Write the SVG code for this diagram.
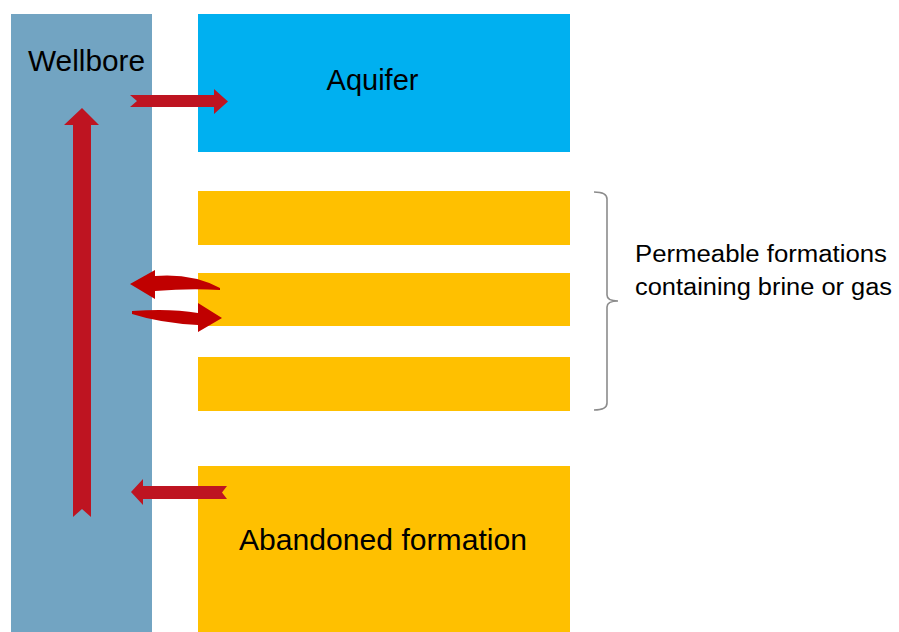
<svg xmlns="http://www.w3.org/2000/svg" width="899" height="632" viewBox="0 0 899 632">
  <style>
    .label { font-family: "Liberation Sans", Arial, sans-serif; font-size: 29px; fill: #000; }
    .note { font-family: "Liberation Sans", Arial, sans-serif; font-size: 23px; fill: #000; }
    .well { fill: #72A4C2; }
    .aquifer { fill: #00B0F0; }
    .layer { fill: #FFC000; }
    .flow { fill: #BE1421; }
    .swirl { fill: #C00000; }
    .brace { fill: none; stroke: #8C8C8C; stroke-width: 1.6; }
  </style>
  <rect width="899" height="632" fill="#FFFFFF"/>

  <g id="wellbore">
    <rect class="well" x="11" y="14" width="141" height="618"/>
    <text class="label" x="28" y="71" textLength="117" lengthAdjust="spacingAndGlyphs">Wellbore</text>
  </g>

  <g id="aquifer">
    <rect class="aquifer" x="198" y="14" width="372" height="138"/>
    <text class="label" x="372.5" y="90" text-anchor="middle">Aquifer</text>
  </g>

  <g id="permeable-1">
    <rect class="layer" x="198" y="191" width="372" height="54"/>
  </g>
  <g id="permeable-2">
    <rect class="layer" x="198" y="273" width="372" height="53"/>
  </g>
  <g id="permeable-3">
    <rect class="layer" x="198" y="357" width="372" height="54"/>
  </g>

  <g id="abandoned-formation">
    <rect class="layer" x="198" y="466" width="372" height="166"/>
    <text class="label" x="239" y="550" textLength="288" lengthAdjust="spacingAndGlyphs">Abandoned formation</text>
  </g>

  <g id="permeable-note">
    <path class="brace" d="M594,192 Q607,192 607,199 L607,295 Q607,301 618,301 Q607,301 607,307 L607,403 Q607,410 594,410"/>
    <text class="note" x="635" y="262" textLength="252" lengthAdjust="spacingAndGlyphs">Permeable formations</text>
    <text class="note" x="635" y="295" textLength="257" lengthAdjust="spacingAndGlyphs">containing brine or gas</text>
  </g>

  <g id="connectors">
    <!-- wellbore to aquifer -->
    <polygon class="flow" points="130,95 214,95 214,89 228,101.5 214,114 214,107 130,107 137,101"/>
    <!-- upward flow inside the wellbore -->
    <polygon class="flow" points="82,108 99,125 91,125 91,517 82,509 73,517 73,125 64,125"/>
    <!-- abandoned formation to wellbore -->
    <polygon class="flow" points="131,492 143,479 143,486 227,486 222,492.5 227,499 143,499 143,505"/>
    <!-- exchange with permeable layer -->
    <path class="swirl" d="M130,284 L155,270 L155,276 Q192,273 220,288 L220,290 Q190,288 155,291 L155,299 Z"/>
    <path class="swirl" d="M132,311 Q170,308 198,313 L198,303 L222,318 L198,332 L198,325 Q160,323 132,314 Z"/>
  </g>
</svg>
